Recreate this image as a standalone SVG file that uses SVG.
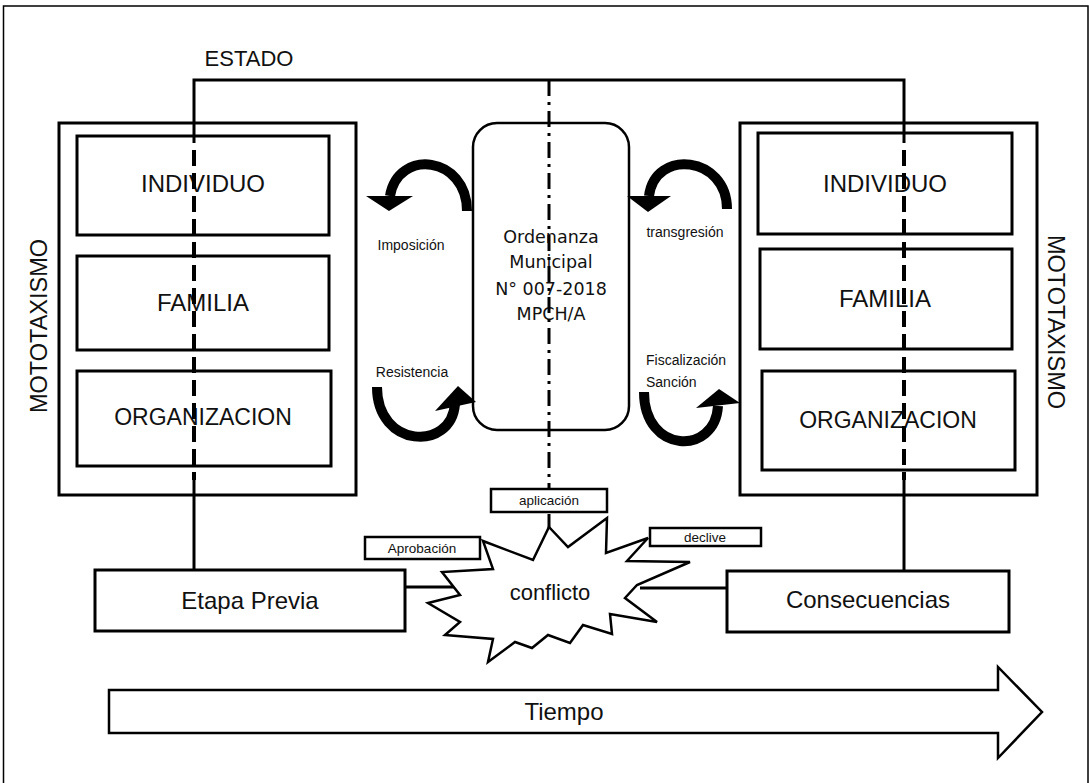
<svg xmlns="http://www.w3.org/2000/svg" width="1089" height="783" viewBox="0 0 1089 783">
<style>
  .box { fill: #fff; stroke: #000; stroke-width: 3; }
  .thin { fill: #fff; stroke: #000; stroke-width: 2.5; }
  .t { font-family: "Liberation Sans", Arial, sans-serif; fill: #111; text-anchor: middle; }
  .start { text-anchor: start; }
  .big { font-size: 24px; }
  .small { font-size: 13.5px; }
  .ord { font-family: "DejaVu Sans", Verdana, sans-serif; font-size: 17.5px; fill: #111; text-anchor: middle; }
  .line { fill: none; stroke: #000; stroke-width: 3; }
  .dash { fill: none; stroke: #000; stroke-width: 4; stroke-dasharray: 16 7; }
  .dashdot { fill: none; stroke: #000; stroke-width: 3; stroke-dasharray: 16 6 3 6; }
  .curve { fill: none; stroke: #000; stroke-width: 10; }
  .head { fill: #000; }
</style>
<rect x="3.5" y="6" width="1084.5" height="800" fill="#fff" stroke="#000" stroke-width="1.5"/>

<g id="estado-label">
  <text class="t" x="249" y="66" font-size="22">ESTADO</text>
</g>

<g id="mototaxismo-left">
  <rect class="box" x="59" y="123" width="297" height="372"/>
  <text class="t" font-size="23.5" transform="translate(47,326) rotate(-90)">MOTOTAXISMO</text>
</g>
<g id="individuo-left">
  <rect class="box" x="77" y="136" width="252" height="99"/>
  <text class="t big" x="203" y="192">INDIVIDUO</text>
</g>
<g id="familia-left">
  <rect class="box" x="77" y="256" width="252" height="94"/>
  <text class="t big" x="203" y="311">FAMILIA</text>
</g>
<g id="organizacion-left">
  <rect class="box" x="77" y="371" width="254" height="95"/>
  <text class="t" font-size="23" x="203" y="425">ORGANIZACION</text>
</g>

<g id="mototaxismo-right">
  <rect class="box" x="740" y="123" width="297" height="372"/>
  <text class="t" font-size="23.5" transform="translate(1048,322) rotate(90)">MOTOTAXISMO</text>
</g>
<g id="individuo-right">
  <rect class="box" x="758" y="133" width="254" height="101"/>
  <text class="t big" x="885" y="192">INDIVIDUO</text>
</g>
<g id="familia-right">
  <rect class="box" x="760" y="249" width="252" height="100"/>
  <text class="t big" x="885" y="307">FAMILIA</text>
</g>
<g id="organizacion-right">
  <rect class="box" x="762" y="371" width="253" height="99"/>
  <text class="t" font-size="23" x="888" y="428">ORGANIZACION</text>
</g>

<g id="connectors">
  <path class="line" d="M194 143 V80 H904 V143"/>
  <path class="dash" d="M194 150 V480"/>
  <path class="dash" d="M904 150 V480"/>
  <path class="line" d="M194 480 V570"/>
  <path class="line" d="M904 480 V571"/>
  <path class="line" d="M405 587 H462"/>
  <path class="line" d="M640 588 H727"/>
</g>

<g id="ordenanza">
  <rect class="thin" x="473" y="123" width="156" height="307" rx="24" ry="24"/>
  <text class="ord" x="551" y="243">Ordenanza</text>
  <text class="ord" x="551" y="268">Municipal</text>
  <text class="ord" x="551" y="295">N° 007-2018</text>
  <text class="ord" x="551" y="320">MPCH/A</text>
</g>

<g id="centerline">
  <path class="dashdot" d="M549 80 V528"/>
</g>

<g id="arrow-imposicion">
  <path class="curve" d="M467 211 C467 156, 398 148, 390 196"/>
  <polygon class="head" points="366,196 413,196 389,211"/>
  <text class="t" font-size="14" x="411" y="250">Imposición</text>
</g>
<g id="arrow-transgresion">
  <path class="curve" d="M727 209 C727 156, 655 148, 649 196"/>
  <polygon class="head" points="627,196 671,196 648,212"/>
  <text class="t" font-size="14" x="685" y="237">transgresión</text>
</g>
<g id="arrow-resistencia">
  <path class="curve" d="M377 387 C377 448, 451 452, 455 404"/>
  <polygon class="head" points="435,411 476,402 458,386"/>
  <text class="t" font-size="14" x="412" y="377">Resistencia</text>
</g>
<g id="arrow-fiscalizacion">
  <path class="curve" d="M644 392 C644 454, 715 456, 718 406"/>
  <polygon class="head" points="696,408 740,403 719,389"/>
  <text class="t start" font-size="14" x="646" y="365">Fiscalización</text>
  <text class="t start" font-size="14" x="646" y="387">Sanción</text>
</g>

<g id="aplicacion">
  <rect class="thin" x="491" y="489" width="116" height="23"/>
  <text class="t small" x="549" y="505">aplicación</text>
</g>
<g id="aprobacion">
  <rect class="thin" x="365" y="537" width="115" height="22"/>
  <text class="t small" x="422" y="553">Aprobación</text>
</g>
<g id="declive">
  <rect class="thin" x="650" y="528" width="111" height="18"/>
  <text class="t small" x="705" y="542">declive</text>
</g>

<g id="conflicto">
  <polygon class="thin" points="549,527 568,547 607,518 606,553 648,538 627,561 690,562 637,585 625,598 657,622 610,614 612,634 583,625 570,643 548,635 532,648 515,642 488,662 493,639 445,635 460,622 428,603 460,595 442,572 493,569 483,541 533,560"/>
  <text class="t" font-size="22" x="550" y="600">conflicto</text>
</g>

<g id="etapa-previa">
  <rect class="box" x="95" y="570" width="310" height="61"/>
  <text class="t big" x="250" y="609">Etapa Previa</text>
</g>
<g id="consecuencias">
  <rect class="box" x="727" y="571" width="282" height="61"/>
  <text class="t big" x="868" y="608">Consecuencias</text>
</g>

<g id="tiempo">
  <polygon class="thin" points="109,690 998,690 998,667 1042,712 998,758 998,733 109,733"/>
  <text class="t big" x="564" y="720">Tiempo</text>
</g>
</svg>
